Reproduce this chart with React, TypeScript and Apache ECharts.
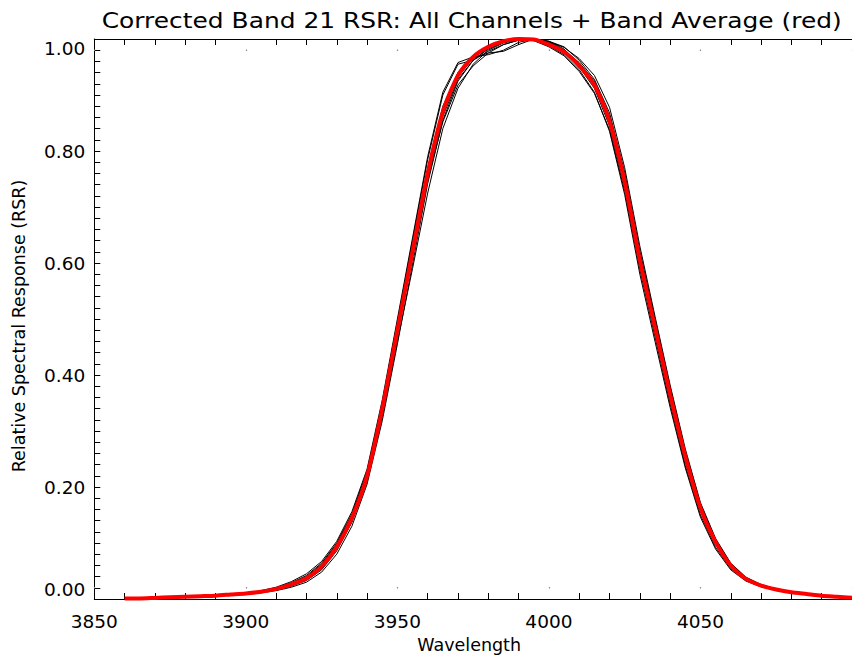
import React, { useEffect, useRef } from "react";
import * as echarts from "echarts";

// Wavelength grid (nm) shared by every response curve
const WAVELENGTH = [
  3860, 3865, 3870, 3875, 3880, 3885, 3890, 3895, 3900, 3905,
  3910, 3915, 3920, 3925, 3930, 3935, 3940, 3945, 3950, 3955,
  3960, 3965, 3970, 3975, 3980, 3985, 3990, 3995, 4000, 4005,
  4010, 4015, 4020, 4025, 4030, 4035, 4040, 4045, 4050, 4055,
  4060, 4065, 4070, 4075, 4080, 4085, 4090, 4095, 4100,
];

// Band average relative spectral response
const BAND_AVERAGE = [
  0.001, 0.001, 0.002, 0.003, 0.004, 0.005, 0.006, 0.008, 0.010, 0.013,
  0.018, 0.026, 0.037, 0.058, 0.093, 0.145, 0.220, 0.340, 0.480, 0.620,
  0.760, 0.870, 0.935, 0.968, 0.986, 0.996, 1.000, 0.999, 0.990, 0.977,
  0.952, 0.918, 0.853, 0.745, 0.605, 0.485, 0.365, 0.255, 0.163, 0.102,
  0.060, 0.036, 0.024, 0.017, 0.012, 0.009, 0.006, 0.004, 0.002,
];

// Individual detector channels
const CH_01 = [
  0.001, 0.001, 0.002, 0.003, 0.004, 0.005, 0.006, 0.008, 0.010, 0.014,
  0.020, 0.029, 0.042, 0.064, 0.100, 0.152, 0.228, 0.350, 0.495, 0.640,
  0.785, 0.900, 0.955, 0.962, 0.978, 0.990, 0.998, 1.000, 0.992, 0.978,
  0.950, 0.912, 0.845, 0.735, 0.595, 0.475, 0.355, 0.245, 0.157, 0.097,
  0.057, 0.034, 0.023, 0.016, 0.011, 0.008, 0.006, 0.004, 0.002,
];
const CH_02 = [
  0.001, 0.001, 0.002, 0.003, 0.004, 0.005, 0.006, 0.007, 0.009, 0.012,
  0.016, 0.023, 0.033, 0.052, 0.086, 0.137, 0.210, 0.325, 0.460, 0.590,
  0.725, 0.840, 0.912, 0.955, 0.980, 0.993, 0.999, 1.000, 0.993, 0.980,
  0.958, 0.925, 0.862, 0.755, 0.615, 0.495, 0.375, 0.262, 0.168, 0.105,
  0.062, 0.037, 0.025, 0.017, 0.012, 0.009, 0.006, 0.004, 0.002,
];
const CH_03 = [
  0.001, 0.001, 0.002, 0.003, 0.004, 0.005, 0.006, 0.008, 0.010, 0.013,
  0.018, 0.027, 0.038, 0.060, 0.095, 0.148, 0.224, 0.345, 0.488, 0.630,
  0.770, 0.880, 0.940, 0.966, 0.975, 0.978, 0.990, 1.000, 0.995, 0.980,
  0.955, 0.920, 0.855, 0.748, 0.607, 0.487, 0.366, 0.256, 0.164, 0.102,
  0.060, 0.036, 0.024, 0.017, 0.012, 0.009, 0.006, 0.004, 0.002,
];
const CH_04 = [
  0.001, 0.001, 0.002, 0.003, 0.004, 0.005, 0.006, 0.008, 0.010, 0.013,
  0.018, 0.026, 0.036, 0.056, 0.090, 0.141, 0.215, 0.333, 0.472, 0.612,
  0.752, 0.862, 0.928, 0.962, 0.982, 0.994, 0.999, 1.000, 0.995, 0.985,
  0.965, 0.935, 0.878, 0.770, 0.630, 0.505, 0.382, 0.268, 0.172, 0.108,
  0.064, 0.039, 0.026, 0.018, 0.013, 0.009, 0.006, 0.004, 0.002,
];
const CH_05 = [
  0.001, 0.001, 0.002, 0.003, 0.004, 0.005, 0.006, 0.008, 0.010, 0.013,
  0.018, 0.026, 0.037, 0.058, 0.093, 0.146, 0.221, 0.342, 0.482, 0.622,
  0.762, 0.872, 0.936, 0.968, 0.985, 0.995, 1.000, 0.998, 0.988, 0.972,
  0.945, 0.905, 0.835, 0.722, 0.580, 0.460, 0.342, 0.234, 0.146, 0.089,
  0.052, 0.032, 0.022, 0.015, 0.011, 0.008, 0.006, 0.004, 0.002,
];
const CH_06 = [
  0.001, 0.001, 0.002, 0.003, 0.004, 0.005, 0.006, 0.008, 0.011, 0.015,
  0.021, 0.031, 0.045, 0.067, 0.103, 0.156, 0.232, 0.355, 0.500, 0.645,
  0.790, 0.905, 0.958, 0.968, 0.972, 0.980, 0.994, 1.000, 0.996, 0.982,
  0.956, 0.920, 0.856, 0.748, 0.607, 0.486, 0.364, 0.252, 0.160, 0.099,
  0.058, 0.035, 0.023, 0.016, 0.011, 0.008, 0.006, 0.004, 0.002,
];
const CH_07 = [
  0.001, 0.001, 0.002, 0.003, 0.004, 0.005, 0.006, 0.007, 0.009, 0.011,
  0.015, 0.021, 0.030, 0.048, 0.080, 0.130, 0.205, 0.318, 0.455, 0.598,
  0.742, 0.855, 0.925, 0.962, 0.984, 0.996, 1.000, 0.999, 0.991, 0.978,
  0.954, 0.921, 0.858, 0.752, 0.612, 0.492, 0.371, 0.260, 0.166, 0.104,
  0.061, 0.037, 0.025, 0.017, 0.012, 0.009, 0.006, 0.004, 0.002,
];
const CH_08 = [
  0.001, 0.001, 0.002, 0.003, 0.004, 0.005, 0.006, 0.008, 0.010, 0.013,
  0.018, 0.026, 0.037, 0.058, 0.092, 0.143, 0.218, 0.336, 0.475, 0.612,
  0.748, 0.852, 0.918, 0.952, 0.975, 0.990, 0.998, 1.000, 0.996, 0.986,
  0.962, 0.928, 0.868, 0.762, 0.622, 0.500, 0.378, 0.264, 0.170, 0.106,
  0.063, 0.038, 0.025, 0.018, 0.012, 0.009, 0.006, 0.004, 0.002,
];
const CH_09 = [
  0.001, 0.001, 0.002, 0.003, 0.004, 0.005, 0.006, 0.008, 0.010, 0.013,
  0.019, 0.028, 0.040, 0.062, 0.098, 0.150, 0.226, 0.346, 0.486, 0.626,
  0.766, 0.876, 0.940, 0.970, 0.987, 0.997, 1.000, 0.997, 0.986, 0.970,
  0.942, 0.903, 0.838, 0.728, 0.588, 0.468, 0.348, 0.238, 0.150, 0.092,
  0.054, 0.033, 0.022, 0.016, 0.011, 0.008, 0.006, 0.004, 0.002,
];
const CH_10 = [
  0.001, 0.001, 0.002, 0.003, 0.004, 0.005, 0.006, 0.008, 0.010, 0.013,
  0.018, 0.026, 0.037, 0.057, 0.092, 0.144, 0.219, 0.338, 0.478, 0.618,
  0.758, 0.868, 0.932, 0.966, 0.985, 0.996, 1.000, 0.999, 0.991, 0.979,
  0.955, 0.921, 0.857, 0.750, 0.610, 0.490, 0.370, 0.259, 0.166, 0.104,
  0.061, 0.037, 0.024, 0.017, 0.012, 0.009, 0.006, 0.004, 0.002,
];

const CHANNELS = [CH_01, CH_02, CH_03, CH_04, CH_05, CH_06, CH_07, CH_08, CH_09, CH_10];

const TITLE = "Corrected Band 21 RSR: All Channels + Band Average (red)";
const X_NAME = "Wavelength";
const Y_NAME = "Relative Spectral Response (RSR)";

const FONT = "DejaVu Sans";

const toPairs = (values: number[]) => WAVELENGTH.map((w, i) => [w, values[i]]);

export default function App() {
  const ref = useRef<HTMLDivElement>(null);

  useEffect(() => {
    if (!ref.current) return;
    const chart = echarts.init(ref.current, null, { renderer: "svg" });

    const minorTick = { show: true, length: 6, lineStyle: { color: "#000", width: 1 } };
    // major ticks show only as a faint dot at their tip
    const majorTick = {
      show: true,
      inside: true,
      length: 12,
      lineStyle: { color: "#888", width: 1.2, type: [0, 10.5, 1.5, 30] },
    };
    const axisLine = { show: true, onZero: false, lineStyle: { color: "#000", width: 1 } };

    const xCommon = {
      type: "value",
      min: 3850,
      max: 4100,
      interval: 50,
      axisLine,
      axisTick: majorTick,
      minorTick: { ...minorTick, splitNumber: 5 },
      splitLine: { show: false },
      minorSplitLine: { show: false },
    };

    chart.setOption({
      animation: false,
      backgroundColor: "#fff",
      graphic: [
        {
          type: "text",
          x: 471.7,
          y: 21,
          scaleX: 1.215,
          silent: true,
          style: {
            text: TITLE,
            fontFamily: FONT,
            fontSize: 20.5,
            fill: "#000",
            align: "center",
            verticalAlign: "middle",
          },
        },
      ],
      grid: { left: 94.3, right: -6.6, top: 39, bottom: 59.7 },
      xAxis: [
        {
          ...xCommon,
          position: "bottom",
          axisLabel: {
            fontFamily: FONT,
            fontSize: 18.5,
            color: "#000",
            margin: 13,
            showMaxLabel: false,
            formatter: (v: number) => String(v),
          },
          name: X_NAME,
          nameLocation: "middle",
          nameGap: 37,
          nameTextStyle: { fontFamily: FONT, fontSize: 17.5, color: "#000", padding: [0, 8, 0, 0] },
        },
        {
          ...xCommon,
          position: "top",
          axisLabel: { show: false },
        },
      ],
      yAxis: [
        {
          type: "value",
          position: "left",
          min: 0,
          max: 1,
          interval: 0.2,
          axisLine,
          axisTick: { show: true, inside: true, length: 6, lineStyle: { color: "#000" } },
          minorTick: { ...minorTick, splitNumber: 10 },
          splitLine: { show: false },
          axisLabel: {
            fontFamily: FONT,
            fontSize: 18.5,
            color: "#000",
            margin: 9,
            formatter: (v: number) => v.toFixed(2),
            verticalAlignMinLabel: "bottom",
            verticalAlignMaxLabel: "top",
          },
          name: Y_NAME,
          nameLocation: "middle",
          nameGap: 66,
          nameTextStyle: { fontFamily: FONT, fontSize: 17.5, color: "#000", padding: [0, 14, 0, 0] },
        },
      ],
      series: [
        ...CHANNELS.map((ch, k) => ({
          type: "line",
          name: `Channel ${k + 1}`,
          data: toPairs(ch),
          showSymbol: false,
          silent: true,
          z: 2,
          lineStyle: { color: "#000", width: 1 },
        })),
        {
          type: "line",
          name: "Band Average",
          data: toPairs(BAND_AVERAGE),
          showSymbol: false,
          silent: true,
          smooth: 0.25,
          z: 3,
          lineStyle: { color: "#ff0000", width: 4 },
        },
      ],
    });

    return () => chart.dispose();
  }, []);

  return (
    <div
      ref={ref}
      style={{ position: "fixed", left: 0, top: 0, width: 852, height: 659, background: "#fff" }}
    />
  );
}
